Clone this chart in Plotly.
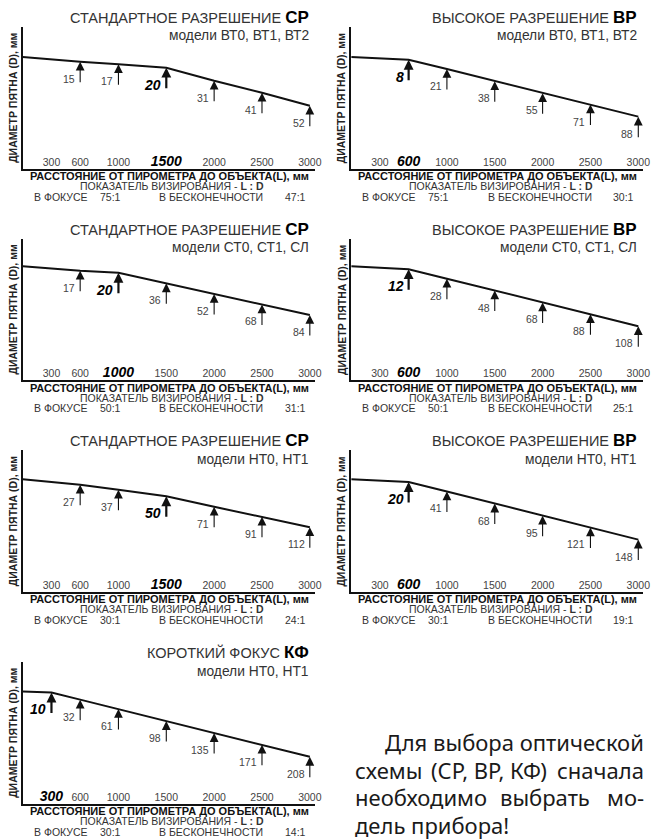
import plotly.graph_objects as go

W, H = 657, 840

# ---------------- data ----------------
TICKS = [300, 600, 1000, 1500, 2000, 2500, 3000]

L_CP_BT = [600, 1000, 1500, 2000, 2500, 3000]
D_CP_BT = [15, 17, 20, 31, 41, 52]
D0_CP_BT = 11

L_BP_BT = [600, 1000, 1500, 2000, 2500, 3000]
D_BP_BT = [8, 21, 38, 55, 71, 88]
D0_BP_BT = 4

L_CP_CT = [600, 1000, 1500, 2000, 2500, 3000]
D_CP_CT = [17, 20, 36, 52, 68, 84]
D0_CP_CT = 10

L_BP_CT = [600, 1000, 1500, 2000, 2500, 3000]
D_BP_CT = [12, 28, 48, 68, 88, 108]
D0_BP_CT = 7

L_CP_HT = [600, 1000, 1500, 2000, 2500, 3000]
D_CP_HT = [27, 37, 50, 71, 91, 112]
D0_CP_HT = 16

L_BP_HT = [600, 1000, 1500, 2000, 2500, 3000]
D_BP_HT = [20, 41, 68, 95, 121, 148]
D0_BP_HT = 14

L_KF_HT = [300, 600, 1000, 1500, 2000, 2500, 3000]
D_KF_HT = [10, 32, 61, 98, 135, 171, 208]
D0_KF_HT = 7

FOCUS = [1500, 600, 1000, 600, 1500, 600, 300]
RATIO_FOCUS = ["75:1", "75:1", "50:1", "50:1", "30:1", "30:1", "30:1"]
RATIO_INF = ["47:1", "30:1", "31:1", "25:1", "24:1", "19:1", "14:1"]

TITLES = ["СТАНДАРТНОЕ РАЗРЕШЕНИЕ ", "ВЫСОКОЕ РАЗРЕШЕНИЕ ",
          "СТАНДАРТНОЕ РАЗРЕШЕНИЕ ", "ВЫСОКОЕ РАЗРЕШЕНИЕ ",
          "СТАНДАРТНОЕ РАЗРЕШЕНИЕ ", "ВЫСОКОЕ РАЗРЕШЕНИЕ ",
          "КОРОТКИЙ ФОКУС "]
CODES = ["СР", "ВР", "СР", "ВР", "СР", "ВР", "КФ"]
MODELS = ["модели ВТ0, ВТ1, ВТ2", "модели ВТ0, ВТ1, ВТ2",
          "модели СТ0, СТ1, СЛ", "модели СТ0, СТ1, СЛ",
          "модели НТ0, НТ1", "модели НТ0, НТ1", "модели НТ0, НТ1"]

X_TITLE = "РАССТОЯНИЕ ОТ ПИРОМЕТРА ДО ОБЪЕКТА(L), мм"
Y_TITLE = "ДИАМЕТР ПЯТНА (D), мм"
LD_TITLE = "ПОКАЗАТЕЛЬ ВИЗИРОВАНИЯ - <b>L : D</b>"
FOCUS_LABEL = "В ФОКУСЕ"
INF_LABEL = "В БЕСКОНЕЧНОСТИ"

PARAGRAPH = [
    ["Для выбора оптической"],
    ["схемы", "(СР, ВР, КФ)", "сначала"],
    ["необходимо", "выбрать", "мо-"],
    ["дель прибора!"],
]

SERIES = [
    (L_CP_BT, D_CP_BT, D0_CP_BT),
    (L_BP_BT, D_BP_BT, D0_BP_BT),
    (L_CP_CT, D_CP_CT, D0_CP_CT),
    (L_BP_CT, D_BP_CT, D0_BP_CT),
    (L_CP_HT, D_CP_HT, D0_CP_HT),
    (L_BP_HT, D_BP_HT, D0_BP_HT),
    (L_KF_HT, D_KF_HT, D0_KF_HT),
]

# ---------------- layout geometry (styles) ----------------
FONT = "Liberation Sans, Arial, sans-serif"
ROW_TOP = [0, 211.7, 423.3, 635]
COL_X0 = [0, 332]
ROW_P0 = [57, 54.5, 56, 56.5]        # pixel offset of the start value
PX_PER_UNIT = [1.19, 0.71, 0.66, 0.594, 0.5, 0.45, 0.325]
AX_LEFT, AX_RIGHT = 23, 318
AX_TOP, AX_BOTTOM = 27, 168.5
X_MAX = 3050


def px(x):
    return x / W


def py(y):
    return 1 - y / H


fig = go.Figure()
annotations = []
layout_axes = {}

for i, (L, D, D0) in enumerate(SERIES):
    row, col = i // 2, i % 2
    rt, cx = ROW_TOP[row], COL_X0[col]
    k = PX_PER_UNIT[i]
    p0 = ROW_P0[row]
    n = i + 1
    xa = "x" if n == 1 else f"x{n}"
    ya = "y" if n == 1 else f"y{n}"
    xkey = "xaxis" if n == 1 else f"xaxis{n}"
    ykey = "yaxis" if n == 1 else f"yaxis{n}"

    fig.add_trace(go.Scatter(
        x=[0] + L, y=[D0] + D, mode="lines",
        line=dict(color="#111", width=2), xaxis=xa, yaxis=ya,
        hoverinfo="skip", showlegend=False, cliponaxis=False))

    ticktext = [
        f"<span style='font-size:14px;color:#000'><b><i>{t}</i></b></span>"
        if t == FOCUS[i] else str(t) for t in TICKS]

    layout_axes[xkey] = dict(
        domain=[px(cx + AX_LEFT), px(cx + AX_RIGHT)], range=[0, X_MAX],
        anchor=ya, showgrid=False, zeroline=False, showline=True,
        linecolor="#111", linewidth=2, ticks="", tickvals=TICKS,
        ticktext=ticktext, ticklabelposition="inside",
        ticklabeloverflow="allow",
        tickfont=dict(family=FONT, size=10.5, color="#444"),
        fixedrange=True)
    d_bot = D0 + (AX_BOTTOM - p0) / k
    d_top = D0 - (p0 - AX_TOP) / k
    layout_axes[ykey] = dict(
        domain=[py(rt + AX_BOTTOM), py(rt + AX_TOP)], range=[d_bot, d_top],
        anchor=xa, showgrid=False, zeroline=False, showline=True,
        linecolor="#111", linewidth=2, ticks="", showticklabels=False,
        fixedrange=True)

    # arrows and their labels
    for Lv, Dv in zip(L, D):
        foc = (Lv == FOCUS[i])
        annotations.append(dict(
            x=Lv, y=Dv, xref=xa, yref=ya, text="", showarrow=True,
            ax=0, ay=22, arrowhead=2, arrowcolor="#111",
            arrowwidth=2.2 if foc else 1.1, arrowsize=0.9 if foc else 1.6,
            standoff=0))
        if foc:
            txt = f"<b><i>{Dv}</i></b>"
            fnt = dict(family=FONT, size=14, color="#000")
        else:
            txt = str(Dv)
            fnt = dict(family=FONT, size=10.5, color="#444")
        annotations.append(dict(
            x=Lv, y=Dv, xref=xa, yref=ya, text=txt, showarrow=False,
            xanchor="right", yanchor="middle", xshift=-3,
            yshift=-17, font=fnt))

    # titles
    annotations.append(dict(
        x=px(cx + 314), y=py(rt + 17.5), xref="paper", yref="paper",
        text=TITLES[i] + f"<b><span style='font-size:17px;color:#000'>{CODES[i]}</span></b>",
        showarrow=False, xanchor="right", yanchor="middle",
        font=dict(family=FONT, size=14.5, color="#333")))
    annotations.append(dict(
        x=px(cx + 314), y=py(rt + 36), xref="paper", yref="paper",
        text=MODELS[i], showarrow=False, xanchor="right", yanchor="middle",
        font=dict(family=FONT, size=13.8, color="#333")))

    # y title
    annotations.append(dict(
        x=px(cx + 13), y=py(rt + 98), xref="paper", yref="paper",
        text=f"<b>{Y_TITLE}</b>", textangle=-90, showarrow=False,
        xanchor="center", yanchor="middle",
        font=dict(family=FONT, size=10.5, color="#222")))

    # x texts
    annotations.append(dict(
        x=px(cx + 171), y=py(rt + 176), xref="paper", yref="paper",
        text=f"<b>{X_TITLE}</b>", showarrow=False, xanchor="center",
        yanchor="middle", borderpad=0,
        font=dict(family=FONT, size=11, color="#111")))
    annotations.append(dict(
        x=px(cx + 174), y=py(rt + 186), xref="paper", yref="paper",
        text=LD_TITLE, showarrow=False, xanchor="center", yanchor="middle",
        borderpad=0, font=dict(family=FONT, size=10.5, color="#333")))
    for xx, t in [(33, FOCUS_LABEL), (100, RATIO_FOCUS[i]),
                  (160, INF_LABEL), (287, RATIO_INF[i])]:
        annotations.append(dict(
            x=px(cx + xx), y=py(rt + 196.5), xref="paper", yref="paper",
            text=t, showarrow=False, xanchor="left", yanchor="middle",
            borderpad=0, font=dict(family=FONT, size=10.5, color="#333")))

# paragraph at bottom right (justified by word placement)
PFONT = dict(family="Noto Sans, Open Sans, sans-serif", size=22, color="#1a1a1a")
line_y = [742, 770, 797, 825]
placements = [
    [(652, "right")],
    [(358, "left"), (494, "center"), (652, "right")],
    [(358, "left"), (551, "center"), (652, "right")],
    [(358, "left")],
]
for words, ly, pl in zip(PARAGRAPH, line_y, placements):
    for w, (xx, anc) in zip(words, pl):
        annotations.append(dict(
            x=px(xx), y=py(ly), xref="paper", yref="paper", text=w,
            showarrow=False, xanchor=anc, yanchor="middle", borderpad=0,
            font=PFONT))

fig.update_layout(
    width=W, height=H, margin=dict(l=0, r=0, t=0, b=0),
    paper_bgcolor="white", plot_bgcolor="white",
    showlegend=False, annotations=annotations, **layout_axes)

fig.write_html("out.html", config={"displayModeBar": False},
               post_script="document.body.style.margin='0';")
